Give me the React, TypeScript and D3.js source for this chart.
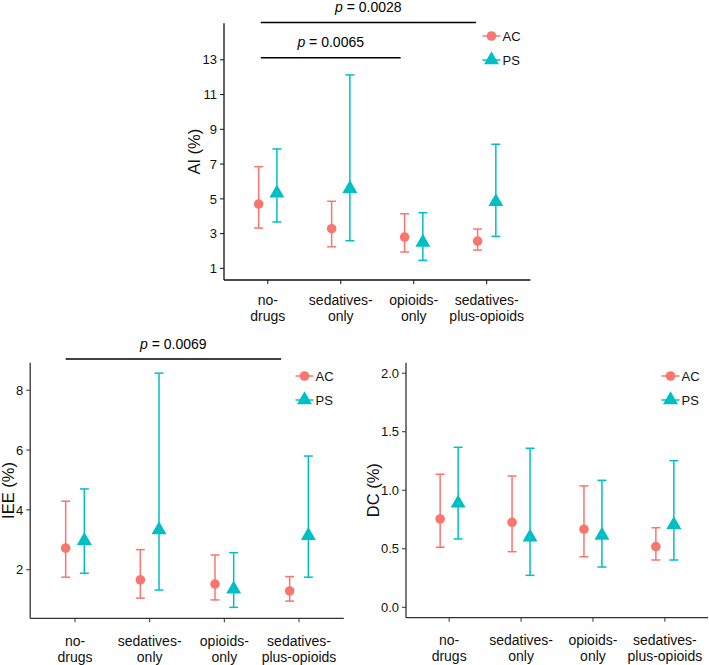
import React from "react";
import * as d3 from "d3";

// ---------- data ----------
const categories = ["no-drugs", "sedatives-only", "opioids-only", "sedatives-plus-opioids"];
const categoryLines = [
  ["no-", "drugs"],
  ["sedatives-", "only"],
  ["opioids-", "only"],
  ["sedatives-", "plus-opioids"],
];
const groups = ["AC", "PS"];

// AI (%)
const aiACMean = [4.7, 3.28, 2.8, 2.57];
const aiACLow = [3.32, 2.24, 1.94, 2.05];
const aiACHigh = [6.85, 4.86, 4.14, 3.26];
const aiPSMean = [5.33, 5.58, 2.49, 4.83];
const aiPSLow = [3.67, 2.59, 1.46, 2.84];
const aiPSHigh = [7.87, 12.13, 4.2, 8.14];
const aiTicks = [1, 3, 5, 7, 9, 11, 13];

// IEE (%)
const ieeACMean = [2.72, 1.66, 1.52, 1.29];
const ieeACLow = [1.75, 1.05, 0.99, 0.95];
const ieeACHigh = [4.29, 2.67, 2.49, 1.77];
const ieePSMean = [2.97, 3.33, 1.35, 3.14];
const ieePSLow = [1.88, 1.32, 0.74, 1.75];
const ieePSHigh = [4.7, 8.57, 2.57, 5.8];
const ieeTicks = [2, 4, 6, 8];

// DC (%)
const dcACMean = [0.755, 0.726, 0.667, 0.518];
const dcACLow = [0.513, 0.475, 0.432, 0.404];
const dcACHigh = [1.137, 1.122, 1.037, 0.68];
const dcPSMean = [0.89, 0.6, 0.614, 0.705];
const dcPSLow = [0.584, 0.273, 0.344, 0.404];
const dcPSHigh = [1.367, 1.359, 1.085, 1.253];
const dcTicks = [0, 0.5, 1, 1.5, 2];

// significance annotations (category units)
const aiSig = [
  { x0: 0.903, x1: 3.852, label: "0.0028", level: 0 },
  { x0: 0.905, x1: 2.82, label: "0.0065", level: 1 },
];
const ieeSig = [{ x0: 0.875, x1: 3.76, label: "0.0069", level: 0 }];

// ---------- style ----------
const COLORS = { AC: "#F8766D", PS: "#00BFC4" };
const FONT = "'Liberation Sans', Arial, Helvetica, sans-serif";

type Series = { mean: number[]; low: number[]; high: number[] };

type PanelProps = {
  title: string;
  x0: number;
  x1: number;
  yTop: number;
  yBottom: number;
  domain: [number, number];
  ticks: number[];
  tickFmt: (v: number) => string;
  ac: Series;
  ps: Series;
  titleX: number;
  labelGap: number;
  legendX: number;
  legendY: number;
  sig?: { x0: number; x1: number; label: string; level: number }[];
  sigY?: number[];
  axisColor: string;
};

function Panel(p: PanelProps) {
  const x = d3.scaleLinear().domain([0.4, 4.6]).range([p.x0, p.x1]);
  const y = d3.scaleLinear().domain(p.domain).range([p.yBottom, p.yTop]);
  const dodge = 0.125;
  const cap = 4.5;
  const r = 4.8;
  const tri = d3.symbol().type(d3.symbolTriangle).size(r * r * 4.2)();

  const renderSeries = (s: Series, g: string, off: number) =>
    categories.map((c, i) => {
      const cx = x(i + 1 + off);
      const col = COLORS[g as "AC" | "PS"];
      return (
        <g key={g + c}>
          <line x1={cx} x2={cx} y1={y(s.low[i])} y2={y(s.high[i])} stroke={col} strokeWidth={1.5} />
          <line x1={cx - cap} x2={cx + cap} y1={y(s.low[i])} y2={y(s.low[i])} stroke={col} strokeWidth={1.5} />
          <line x1={cx - cap} x2={cx + cap} y1={y(s.high[i])} y2={y(s.high[i])} stroke={col} strokeWidth={1.5} />
          {g === "AC" ? (
            <circle cx={cx} cy={y(s.mean[i])} r={r} fill={col} />
          ) : (
            <path d={tri || ""} transform={`translate(${cx},${y(s.mean[i])})`} fill={col} />
          )}
        </g>
      );
    });

  const midY = (p.yTop + p.yBottom) / 2;

  return (
    <g fontFamily={FONT}>
      <line x1={p.x0} x2={p.x0} y1={p.yTop} y2={p.yBottom} stroke={p.axisColor} strokeWidth={1.3} />
      <line x1={p.x0} x2={p.x1} y1={p.yBottom} y2={p.yBottom} stroke={p.axisColor} strokeWidth={1.3} />
      {p.ticks.map((t) => (
        <g key={"yt" + t}>
          <line x1={p.x0 - 4} x2={p.x0} y1={y(t)} y2={y(t)} stroke={p.axisColor} strokeWidth={1} />
          <text x={p.x0 - 7} y={y(t)} dy="0.36em" textAnchor="end" fontSize={13} fill="#111">
            {p.tickFmt(t)}
          </text>
        </g>
      ))}
      {categories.map((c, i) => (
        <g key={"xt" + c}>
          <line x1={x(i + 1)} x2={x(i + 1)} y1={p.yBottom} y2={p.yBottom + 4} stroke={p.axisColor} strokeWidth={1} />
          {categoryLines[i].map((ln, j) => (
            <text key={j} x={x(i + 1)} y={p.yBottom + p.labelGap + j * 16} textAnchor="middle" fontSize={14} fill="#111">
              {ln}
            </text>
          ))}
        </g>
      ))}
      <text
        transform={`translate(${p.titleX},${midY}) rotate(-90)`}
        textAnchor="middle"
        fontSize={16.5}
        fill="#111"
      >
        {p.title}
      </text>

      {renderSeries(p.ac, "AC", -dodge)}
      {renderSeries(p.ps, "PS", dodge)}

      {groups.map((g, k) => {
        const ly = p.legendY + k * 24;
        const col = COLORS[g as "AC" | "PS"];
        const cx = p.legendX + 9;
        return (
          <g key={"lg" + g}>
            <line x1={p.legendX} x2={p.legendX + 18} y1={ly} y2={ly} stroke={col} strokeWidth={1.5} />
            {g === "AC" ? (
              <circle cx={cx} cy={ly} r={r} fill={col} />
            ) : (
              <path d={tri || ""} transform={`translate(${cx},${ly})`} fill={col} />
            )}
            <text x={p.legendX + 20} y={ly} dy="0.36em" fontSize={13} fill="#111">
              {g}
            </text>
          </g>
        );
      })}

      {(p.sig || []).map((s, k) => {
        const ly = (p.sigY || [])[s.level];
        const xa = x(s.x0);
        const xb = x(s.x1);
        return (
          <g key={"sig" + k}>
            <line x1={xa} x2={xb} y1={ly} y2={ly} stroke="#000" strokeWidth={1.5} />
            <text x={(xa + xb) / 2} y={ly - 10.5} textAnchor="middle" fontSize={14} fill="#000">
              <tspan fontStyle="italic">p</tspan>
              {" = " + s.label}
            </text>
          </g>
        );
      })}
    </g>
  );
}

export default function App() {
  const f0 = (v: number) => d3.format("d")(v);
  const f1 = (v: number) => d3.format(".1f")(v);
  return (
    <svg
      width={709}
      height={665}
      viewBox="0 0 709 665"
      style={{ position: "absolute", left: 0, top: 0, background: "#fff" }}
    >
      <rect width={709} height={665} fill="#fff" />
      <Panel
        title="AI (%)"
        x0={224}
        x1={530.5}
        yTop={23.3}
        yBottom={280}
        domain={[0.33, 15.1]}
        ticks={aiTicks}
        tickFmt={f0}
        ac={{ mean: aiACMean, low: aiACLow, high: aiACHigh }}
        ps={{ mean: aiPSMean, low: aiPSLow, high: aiPSHigh }}
        titleX={200}
        labelGap={25}
        legendX={482.5}
        legendY={36}
        sig={aiSig}
        sigY={[22.5, 57.7]}
        axisColor="#111"
      />
      <Panel
        title="IEE (%)"
        x0={30.2}
        x1={343.8}
        yTop={362.7}
        yBottom={618.3}
        domain={[0.375, 8.92]}
        ticks={ieeTicks}
        tickFmt={f0}
        ac={{ mean: ieeACMean, low: ieeACLow, high: ieeACHigh }}
        ps={{ mean: ieePSMean, low: ieePSLow, high: ieePSHigh }}
        titleX={14}
        labelGap={27.5}
        legendX={295.5}
        legendY={376}
        sig={ieeSig}
        sigY={[359]}
        axisColor="#333"
      />
      <Panel
        title="DC (%)"
        x0={406}
        x1={708}
        yTop={362.7}
        yBottom={617.7}
        domain={[-0.089, 2.09]}
        ticks={dcTicks}
        tickFmt={f1}
        ac={{ mean: dcACMean, low: dcACLow, high: dcACHigh }}
        ps={{ mean: dcPSMean, low: dcPSLow, high: dcPSHigh }}
        titleX={378.5}
        labelGap={27.5}
        legendX={661.5}
        legendY={376}
        axisColor="#333"
      />
    </svg>
  );
}
